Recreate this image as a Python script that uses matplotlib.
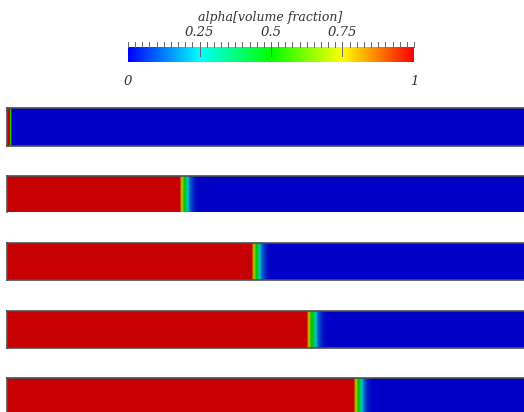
import matplotlib
matplotlib.use("Agg")
import matplotlib.pyplot as plt
import numpy as np
from matplotlib.colors import LinearSegmentedColormap

# colormap stops (paraview-like rainbow)
cmap_colors = ["#0000ff", "#00ffff", "#00ff00", "#ffff00", "#ff0000"]
cbar_ticks = [0.25, 0.5, 0.75]
cbar_title = "alpha[volume fraction]"

# number of visible cells across each strip
n_cells = 517
# cells fully filled (alpha=1) before the interface, one per snapshot
front_cells = [3, 171, 242, 297, 343]
# alpha values across the interface (left to right)
profile_first = [0.55, 0.08]
profile = [0.9, 0.8, 0.68, 0.58, 0.5, 0.42, 0.34, 0.27, 0.21, 0.16, 0.12,
           0.09, 0.07, 0.05, 0.035, 0.025, 0.015, 0.008]

# strip positions in px from top: (top, bottom)
strip_px = [(108, 146), (176, 212), (243, 280), (311, 348), (378, 416)]
show_bottom = [True, False, True, True, True]

W, H = 524, 412
fig = plt.figure(figsize=(W / 100, H / 100), dpi=100)

cmap = LinearSegmentedColormap.from_list("rainbow", cmap_colors)
shade = 0.78
shaded = LinearSegmentedColormap.from_list(
    "shaded", [tuple(shade * c for c in cmap(v)[:3]) for v in np.linspace(0, 1, 256)])

border = "#4e4e5a"
for i, (top, bot) in enumerate(strip_px):
    prof = profile_first if i == 0 else profile
    alpha = np.zeros(n_cells)
    alpha[:front_cells[i]] = 1.0
    alpha[front_cells[i]:front_cells[i] + len(prof)] = prof
    ax = fig.add_axes([7 / W, 1 - bot / H, (W - 7) / W + 0.01, (bot - top) / H])
    ax.imshow(alpha[np.newaxis, :], cmap=shaded, vmin=0, vmax=1, aspect="auto",
              interpolation="nearest", extent=[0, n_cells, 0, 1])
    ax.set_xlim(0, n_cells)
    ax.set_xticks([])
    ax.set_yticks([])
    ax.spines["right"].set_visible(False)
    ax.spines["bottom"].set_visible(show_bottom[i])
    for s in ax.spines.values():
        s.set_color(border)
        s.set_linewidth(1.2)

# colorbar
cax = fig.add_axes([128 / W, 1 - 62 / H, (414 - 128) / W, 15 / H])
grad = np.linspace(0, 1, 512)[np.newaxis, :]
cax.imshow(grad, cmap=cmap, aspect="auto", extent=[0, 1, 0, 1])
cax.set_xlim(0, 1)
cax.set_ylim(0, 1)
cax.set_xticks([])
cax.set_yticks([])
for s in cax.spines.values():
    s.set_visible(False)

tick_col = "#666666"
txt_col = "#333333"
minor = np.arange(0, 1.0001, 0.025)
for v in minor:
    cax.plot([v, v], [1.0, 1.35], color=tick_col, lw=0.7, clip_on=False)
for v in cbar_ticks:
    cax.plot([v, v], [0.4, 1.35], color=tick_col, lw=0.7, clip_on=False)
    cax.text(v, 1.5, str(v), ha="center", va="bottom", fontsize=9.5,
             family="DejaVu Serif", style="italic", color=txt_col)
cax.text(0, -0.85, "0", ha="center", va="top", fontsize=9.5,
         family="DejaVu Serif", style="italic", color=txt_col)
cax.text(1, -0.85, "1", ha="center", va="top", fontsize=9.5,
         family="DejaVu Serif", style="italic", color=txt_col)
fig.text(270 / W, 1 - 18 / H, cbar_title, ha="center", va="center", fontsize=9,
         family="DejaVu Serif", style="italic", color=txt_col)

fig.savefig("out.png", dpi=100)
